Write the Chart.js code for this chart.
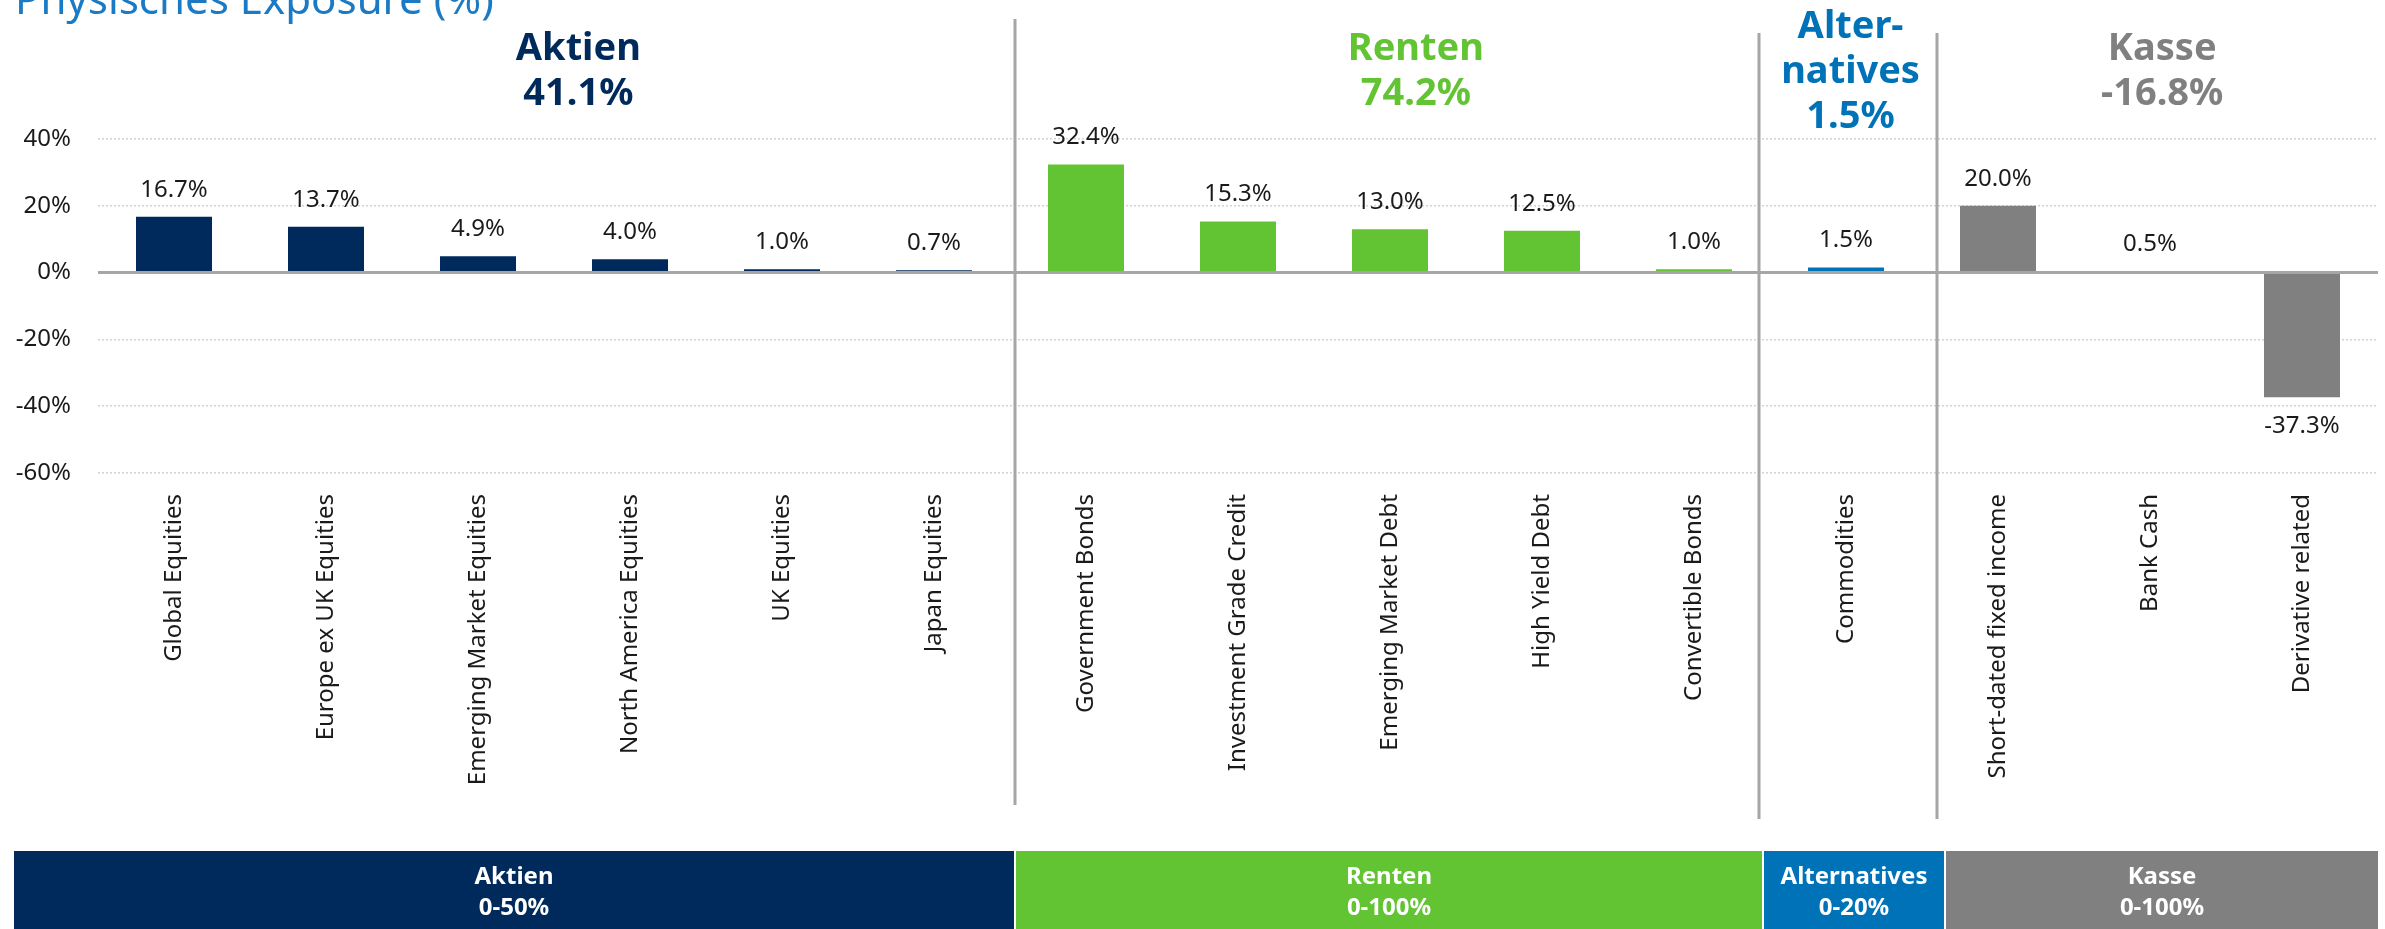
<!DOCTYPE html>
<html>
<head>
<meta charset="utf-8">
<script src="https://cdn.jsdelivr.net/npm/chart.js@4.4.0/dist/chart.umd.min.js"></script>
<style>
  html, body { margin: 0; padding: 0; background: #fff; }
  canvas { display: block; }
</style>
</head>
<body>
<canvas id="exposure" width="2385" height="929"></canvas>
<script>
const categories = [
  'Global Equities', 'Europe ex UK Equities', 'Emerging Market Equities', 'North America Equities',
  'UK Equities', 'Japan Equities', 'Government Bonds', 'Investment Grade Credit',
  'Emerging Market Debt', 'High Yield Debt', 'Convertible Bonds', 'Commodities',
  'Short-dated fixed income', 'Bank Cash', 'Derivative related'
];
const values = [16.7, 13.7, 4.9, 4.0, 1.0, 0.7, 32.4, 15.3, 13.0, 12.5, 1.0, 1.5, 20.0, 0.5, -37.3];
const groupOf = [0, 0, 0, 0, 0, 0, 1, 1, 1, 1, 1, 2, 3, 3, 3];
const groupColors = ['#002a5c', '#62c333', '#0072b8', '#808080'];
const groupNames = [['Aktien'], ['Renten'], ['Alter-', 'natives'], ['Kasse']];
const groupTotals = ['41.1%', '74.2%', '1.5%', '-16.8%'];
const bandNames = ['Aktien', 'Renten', 'Alternatives', 'Kasse'];
const bandRanges = ['0-50%', '0-100%', '0-20%', '0-100%'];
const yTicks = [-60, -40, -20, 0, 20, 40];

// where things sit, in category units
const separatorsAt = [5.53, 10.43, 11.6];
const headersAt = [2.66, 8.17, 11.03, 13.08];
const bandEdgesAt = [-1.05, 5.53, 10.455, 11.65, 14.5];

const FONT = "'Noto Sans', 'Open Sans', sans-serif";

const decorations = {
  id: 'decorations',
  afterDatasetsDraw(chart) {
    const { ctx, chartArea, scales: { x, y } } = chart;
    ctx.save();
    // zero line
    const y0 = y.getPixelForValue(0);
    ctx.strokeStyle = '#a6a6a6';
    ctx.lineWidth = 3;
    ctx.beginPath();
    ctx.moveTo(chartArea.left, y0);
    ctx.lineTo(chartArea.right, y0);
    ctx.stroke();

    // group separators
    separatorsAt.forEach((v, i) => {
      const px = Math.round(x.getPixelForValue(v));
      ctx.beginPath();
      ctx.moveTo(px, i === 0 ? 19 : 33);
      ctx.lineTo(px, i === 0 ? 805 : 819);
      ctx.stroke();
    });

    // value labels
    ctx.fillStyle = '#1a1a1a';
    ctx.font = '24px ' + FONT;
    ctx.textAlign = 'center';
    ctx.textBaseline = 'middle';
    chart.getDatasetMeta(0).data.forEach((bar, i) => {
      const v = values[i];
      const ty = v >= 0 ? bar.y - 27 : bar.y + 29;
      ctx.fillText(v.toFixed(1) + '%', bar.x, ty);
    });
    ctx.restore();
  },
  afterDraw(chart) {
    const { ctx, scales: { x } } = chart;
    ctx.save();

    // title, cut at the top like the original
    ctx.fillStyle = '#1a7ac4';
    ctx.font = '42px ' + FONT;
    ctx.textAlign = 'left';
    ctx.textBaseline = 'alphabetic';
    ctx.fillText('Physisches Exposure (%)', 15, 14);

    // group headers
    ctx.textAlign = 'center';
    ctx.textBaseline = 'middle';
    ctx.font = 'bold 38px ' + FONT;
    groupNames.forEach((name, g) => {
      const lines = name.concat([groupTotals[g]]);
      const cx = x.getPixelForValue(headersAt[g]);
      const startY = 72 - (lines.length - 1) * 45 / 2;
      ctx.fillStyle = groupColors[g];
      lines.forEach((t, k) => ctx.fillText(t, cx, startY + k * 45));
    });

    // bottom bands
    const edges = bandEdgesAt.map(v => Math.round(x.getPixelForValue(v)));
    ctx.font = 'bold 24px ' + FONT;
    bandNames.forEach((name, g) => {
      const l = edges[g] + (g > 0 ? 1 : 0);
      const r = edges[g + 1] - (g < 3 ? 1 : 0);
      ctx.fillStyle = groupColors[g];
      ctx.fillRect(l, 851, r - l, 929 - 851);
      ctx.fillStyle = '#ffffff';
      ctx.fillText(name, (l + r) / 2, 877);
      ctx.fillText(bandRanges[g], (l + r) / 2, 908);
    });
    ctx.restore();
  }
};

new Chart('exposure', {
  type: 'bar',
  data: {
    labels: categories,
    datasets: [{
      data: values,
      backgroundColor: groupOf.map(g => groupColors[g]),
      barPercentage: 0.5,
      categoryPercentage: 1.0
    }]
  },
  options: {
    responsive: false,
    animation: false,
    devicePixelRatio: 1,
    layout: { padding: { top: 139, left: 0, right: 7, bottom: 0 } },
    plugins: { legend: { display: false }, tooltip: { enabled: false } },
    scales: {
      x: {
        grid: { display: false },
        border: { display: false },
        ticks: {
          autoSkip: false,
          maxRotation: 90,
          minRotation: 90,
          padding: 13,
          color: '#1a1a1a',
          font: { size: 24, family: FONT }
        },
        afterFit: s => { s.height = 929 - 473; }
      },
      y: {
        min: -60,
        max: 40,
        grid: {
          drawTicks: false,
          color: c => (c.tick && c.tick.value === 0) ? 'rgba(0,0,0,0)' : '#d2d2d2',
          lineWidth: 1.5
        },
        border: { display: false, dash: [2, 2] },
        ticks: {
          padding: 27,
          color: '#1a1a1a',
          font: { size: 24, family: FONT },
          callback: v => v + '%'
        },
        afterBuildTicks: s => { s.ticks = yTicks.map(v => ({ value: v })); },
        afterFit: s => { s.width = 98; }
      }
    }
  },
  plugins: [decorations]
});
</script>
</body>
</html>
